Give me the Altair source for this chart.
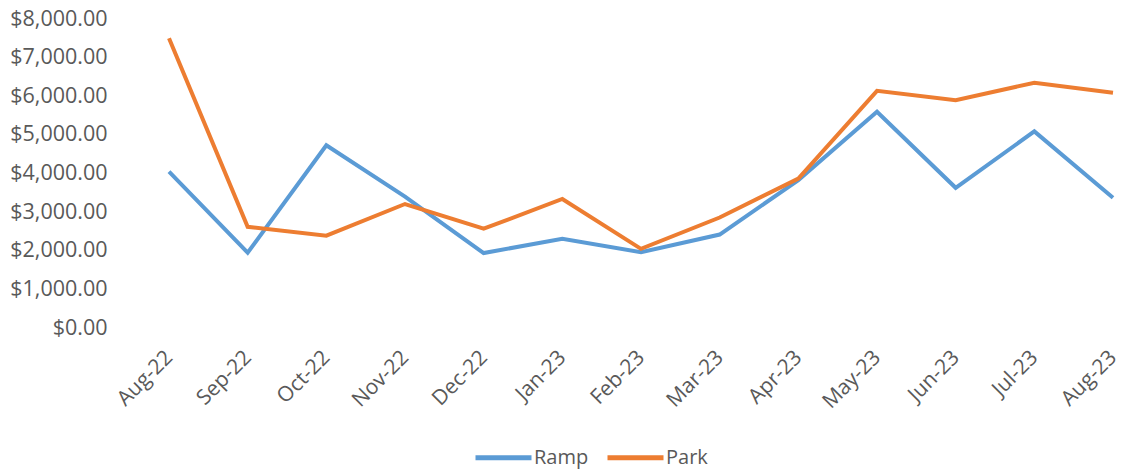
import altair as alt
import pandas as pd

months = ["Aug-22", "Sep-22", "Oct-22", "Nov-22", "Dec-22", "Jan-23", "Feb-23",
          "Mar-23", "Apr-23", "May-23", "Jun-23", "Jul-23", "Aug-23"]
ramp = [4050, 1950, 4730, 3400, 1940, 2310, 1960, 2420, 3830, 5600, 3630, 5090, 3370]
park = [7500, 2620, 2390, 3210, 2570, 3340, 2050, 2860, 3870, 6140, 5900, 6350, 6090]
series = ["Ramp", "Park"]
colors = ["#5B9BD5", "#ED7D31"]
y_ticks = [0, 1000, 2000, 3000, 4000, 5000, 6000, 7000, 8000]

rows = []
for name, vals in zip(series, [ramp, park]):
    for m, v in zip(months, vals):
        rows.append({"Month": m, "Value": v, "Series": name})
df = pd.DataFrame(rows)

FONT = "Open Sans"
GRAY = "#595959"

chart = alt.Chart(df).mark_line(strokeWidth=4, strokeJoin="miter").encode(
    x=alt.X("Month:N", sort=months,
            scale=alt.Scale(type="point", padding=0),
            axis=alt.Axis(title=None, labelAngle=-45, labelAlign="right",
                          labelBaseline="middle", labelPadding=26,
                          ticks=False, domain=False, grid=False,
                          labelFont=FONT, labelFontSize=21, labelColor=GRAY)),
    y=alt.Y("Value:Q", scale=alt.Scale(domain=[0, 8000], nice=False),
            axis=alt.Axis(title=None, values=y_ticks, format="$,.2f",
                          ticks=False, domain=False, grid=False, labelPadding=62,
                          labelFont=FONT, labelFontSize=21.5, labelColor=GRAY)),
    color=alt.Color("Series:N", sort=series,
                    scale=alt.Scale(domain=series, range=colors),
                    legend=alt.Legend(title=None, orient="none", direction="horizontal",
                                      legendX=318, legendY=422,
                                      symbolType="M-2,0H2", symbolSize=784,
                                      symbolStrokeWidth=5, symbolFillColor="transparent",
                                      labelOffset=14, columnPadding=8,
                                      labelFont=FONT, labelFontSize=20,
                                      labelColor=GRAY)),
    detail="Series:N",
).properties(
    width=944, height=309,
    autosize=alt.AutoSizeParams(type="none"),
    padding={"left": 161, "top": 11, "right": 5, "bottom": 142},
).configure_view(stroke=None)

chart.save("out.html", embed_options={"renderer": "svg", "actions": False})
